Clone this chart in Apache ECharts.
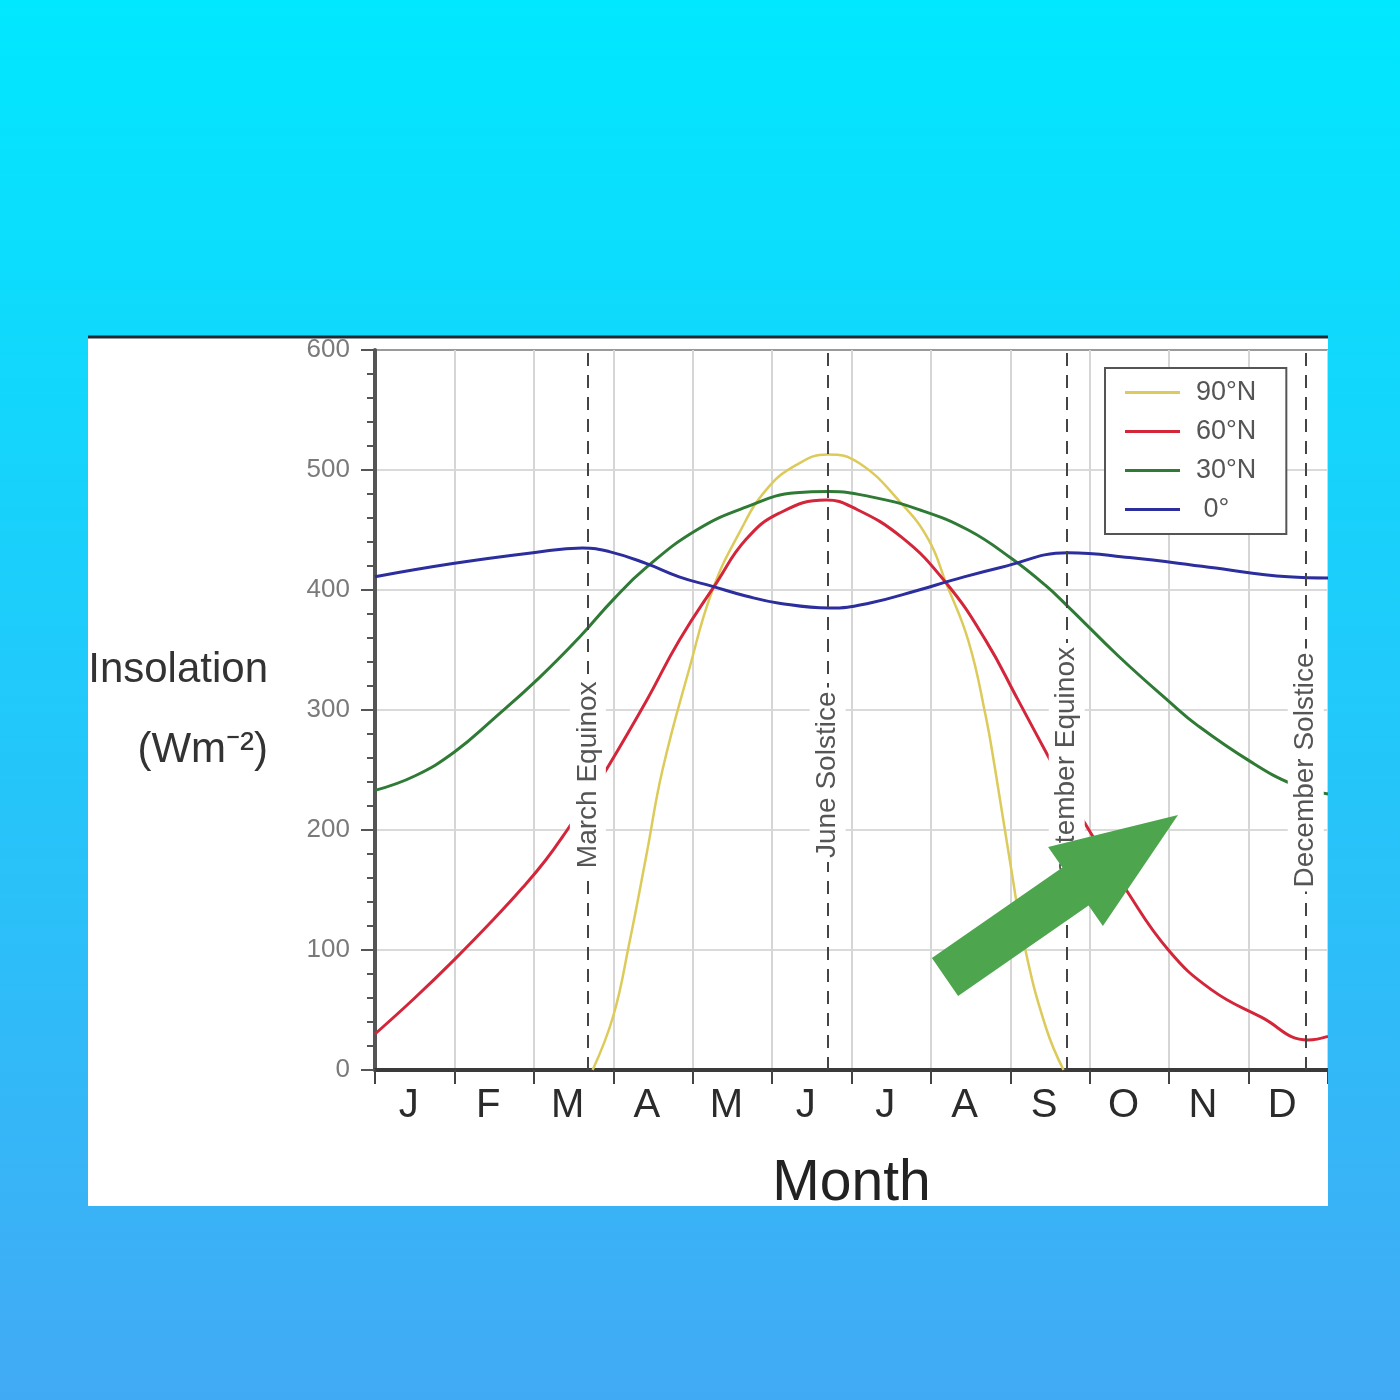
<!DOCTYPE html>
<html>
<head>
<meta charset="utf-8">
<script src="https://cdn.jsdelivr.net/npm/echarts@6/dist/echarts.min.js"></script>
<style>html,body{margin:0;padding:0;background:#fff}#c{width:1400px;height:1400px}</style>
</head>
<body>
<div id="c"></div>
<script>
// ---- data ----
const months = ['J','F','M','A','M','J','J','A','S','O','N','D'];

// month position (0 = start of Jan, 12 = end of Dec) and insolation (W m-2)
const lat90Months = [2.74, 3.0, 3.2, 3.42, 3.62, 3.96, 4.25, 4.59, 4.92, 5.3, 5.7, 6.09, 6.63, 6.97, 7.19, 7.47, 7.69, 7.81, 8.0, 8.19, 8.45, 8.67];
const lat90Values = [0, 45, 105, 180, 250, 335, 400, 448, 483, 504, 513, 506, 472, 442, 406, 358, 295, 250, 172, 100, 35, 0];

const lat60Months = [0, 0.5, 1.0, 1.5, 1.86, 2.15, 2.42, 2.68, 2.91, 3.42, 3.83, 4.3, 4.67, 5.09, 5.68, 6.01, 6.63, 7.19, 7.69, 8.1, 8.48, 8.88, 9.46, 9.99, 10.53, 11.16, 11.75, 12];
const lat60Values = [30, 60, 92, 126, 152, 175, 200, 226, 250, 308, 358, 406, 442, 464, 475, 469, 444, 406, 358, 308, 261, 212, 150, 100, 67, 44, 25, 28];

const lat30Months = [0, 0.5, 1.0, 1.5, 2.07, 2.58, 3.0, 3.42, 4.05, 4.67, 5.3, 5.72, 6.22, 6.85, 7.47, 8.02, 8.44, 8.73, 9.36, 10.0, 10.36, 11.0, 11.56, 12];
const lat30Values = [233, 245, 265, 293, 327, 361, 392, 419, 450, 469, 481, 482, 478, 467, 450, 426, 404, 386, 345, 307, 287, 258, 238, 230];

const lat0Months = [0, 0.98, 1.99, 2.61, 2.95, 3.42, 3.83, 4.25, 4.67, 5.09, 5.72, 6.22, 6.85, 7.26, 7.89, 8.73, 9.5, 10.5, 11.5, 12];
const lat0Values = [411, 422, 431, 435, 432, 422, 411, 403, 395, 389, 385, 389, 400, 408, 419, 431, 427, 419, 411, 410];

const seriesNames = ['90°N', '60°N', '30°N', '0°'];
const seriesColors = ['#DCCB5A', '#D3263A', '#2F7A35', '#2B2E9C'];

const eventMonths = [2.68, 5.70, 8.71, 11.72];
const eventLabels = ['March Equinox', 'June Solstice', 'September Equinox', 'December Solstice'];
const eventLabelCenters = [246, 246, 250, 250];

// ---- chart ----
const FONT = '"Liberation Sans", Arial, sans-serif';
const pairs = (xs, ys) => xs.map((x, i) => [x, ys[i]]);
const bgGrad = {
  type: 'linear', x: 0, y: 0, x2: 0, y2: 1400, global: true,
  colorStops: [{offset: 0, color: '#00E8FF'}, {offset: 1, color: '#42AAF5'}]
};
const dashStyle = {color: '#444', width: 2, type: [13, 9]};

const lineSeries = [
  [lat90Months, lat90Values],
  [lat60Months, lat60Values],
  [lat30Months, lat30Values],
  [lat0Months, lat0Values]
].map((d, i) => ({
  name: seriesNames[i],
  type: 'line',
  xAxisIndex: 1,
  data: pairs(d[0], d[1]),
  smooth: 0.45,
  symbol: 'none',
  showSymbol: false,
  lineStyle: {color: seriesColors[i], width: i === 0 ? 2.5 : 3},
  itemStyle: {color: seriesColors[i]},
  z: 2 + i,
  animation: false
}));

const markData = [];
eventMonths.forEach((m, i) => {
  markData.push([
    {coord: [m, 0], lineStyle: dashStyle, label: {show: false}},
    {coord: [m, 600]}
  ]);
  markData.push([
    {coord: [m, 0], lineStyle: dashStyle,
     label: {
       show: true, position: 'middle', formatter: eventLabels[i],
       color: '#555', fontSize: 28, fontFamily: FONT,
       backgroundColor: '#fff', padding: [3, 4, 3, 4], lineHeight: 30,
       align: 'center', verticalAlign: 'middle', distance: 0
     }},
    {coord: [m, eventLabelCenters[i] * 2]}
  ]);
});

const chart = echarts.init(document.getElementById('c'), null, {renderer: 'canvas'});
chart.setOption({
  animation: false,
  backgroundColor: bgGrad,
  textStyle: {fontFamily: FONT},
  grid: {left: 375, top: 350, right: 72, bottom: 330, containLabel: false, outerBoundsMode: 'none'},
  legend: {
    data: seriesNames,
    orient: 'vertical',
    left: 1105, top: 368,
    backgroundColor: '#fff',
    borderColor: '#555', borderWidth: 2, borderRadius: 0,
    padding: [11, 30, 11, 20],
    icon: 'rect',
    itemWidth: 55, itemHeight: 3, itemGap: 12,
    formatter: n => (n === '0°' ? ' 0°' : n),
    textStyle: {fontSize: 27, color: '#555', fontFamily: FONT, padding: [0, 0, 0, 11]},
    z: 6
  },
  xAxis: [
    {
      type: 'category', data: months, boundaryGap: true, position: 'bottom',
      axisLine: {show: true, lineStyle: {color: '#3a3a3a', width: 4}},
      axisTick: {show: true, length: 14, interval: 0, lineStyle: {color: '#444', width: 2}},
      axisLabel: {interval: 0, color: '#2b2b2b', fontSize: 40, margin: 16, padding: [0, 12, 0, 0], fontFamily: FONT},
      splitLine: {show: true, interval: 0, lineStyle: {color: '#d6d6d6', width: 2}},
      name: 'Month', nameLocation: 'middle', nameGap: 86,
      nameTextStyle: {fontSize: 57, color: '#222', fontFamily: FONT}
    },
    {type: 'value', min: 0, max: 12, show: false}
  ],
  yAxis: {
    type: 'value', min: 0, max: 600, interval: 100,
    axisLine: {show: true, lineStyle: {color: '#555', width: 4}},
    axisTick: {show: true, length: 14, lineStyle: {color: '#555', width: 2}},
    minorTick: {show: true, splitNumber: 5, length: 8, lineStyle: {color: '#555', width: 2}},
    axisLabel: {color: '#7a7a7a', fontSize: 26, margin: 25, fontFamily: FONT},
    splitLine: {show: true, lineStyle: {color: ['#dadada', '#dadada', '#dadada', '#dadada', '#dadada', '#dadada', '#9a9a9a'], width: 2}},
    name: 'Insolation\n(Wm⁻²)', nameLocation: 'middle', nameGap: 107, nameRotate: 0,
    nameTextStyle: {fontSize: 42, color: '#333', align: 'right', verticalAlign: 'middle', lineHeight: 80, fontFamily: FONT}
  },
  series: lineSeries.concat([{
    name: 'events', type: 'line', xAxisIndex: 1, data: [], symbol: 'none',
    z: 10,
    markLine: {silent: true, symbol: ['none', 'none'], animation: false, z: 10, data: markData}
  }]),
  graphic: [
    {type: 'rect', shape: {x: 88, y: 338, width: 1240, height: 868}, style: {fill: '#ffffff'}, z: -10, silent: true},
    {type: 'rect', shape: {x: 0, y: 0, width: 1400, height: 337}, style: {fill: bgGrad}, z: 50, silent: true},
    {type: 'rect', shape: {x: 0, y: 1206, width: 1400, height: 194}, style: {fill: bgGrad}, z: 50, silent: true},
    {type: 'rect', shape: {x: 0, y: 336, width: 88, height: 872}, style: {fill: bgGrad}, z: 50, silent: true},
    {type: 'rect', shape: {x: 1328, y: 336, width: 72, height: 872}, style: {fill: bgGrad}, z: 50, silent: true},
    {type: 'line', shape: {x1: 88, y1: 337, x2: 1328, y2: 337}, style: {stroke: '#1d2b36', lineWidth: 3}, z: 51, silent: true},
    {type: 'polygon', shape: {points: [[931.9, 958.1], [1062.4, 867.6], [1048.1, 847.1], [1178, 815], [1102.9, 925.9], [1088.6, 905.4], [958.1, 995.9]]},
     style: {fill: '#4DA64D'}, z: 60, silent: true}
  ]
});
</script>
</body>
</html>
